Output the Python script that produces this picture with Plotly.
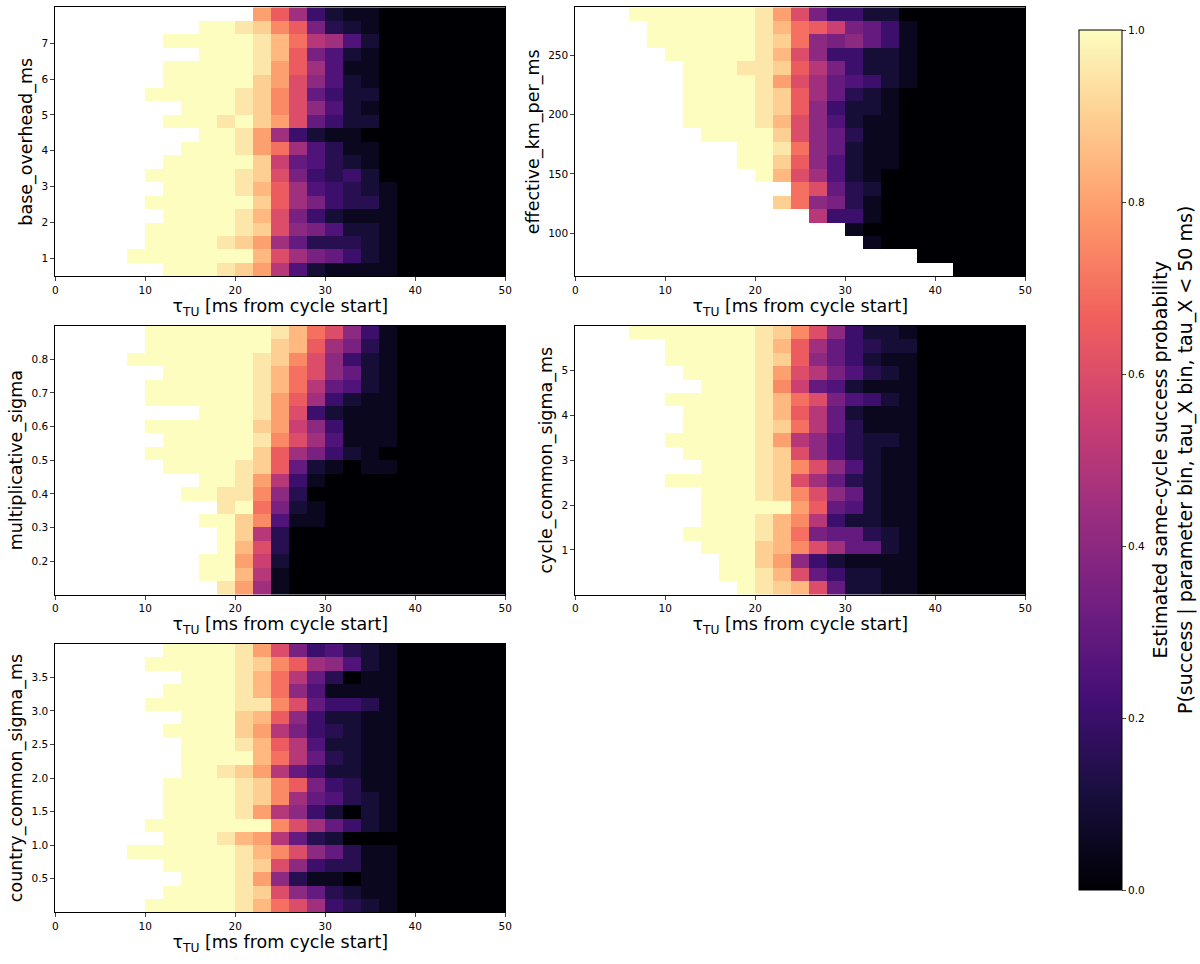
import numpy as np
import plotly.graph_objects as go

# cell codes: "." = empty bin, a..u = 0.00..1.00 in steps of 0.05
# rows are listed top (largest parameter value) to bottom, 25 columns of 2 ms each
LEVELS = "abcdefghijklmnopqrstu"

tau_edges = [0, 50]
n_tau_bins = 25

base_overhead_rows = [
    "...........qnjecbbaaaaaaa",
    "........uutspnhdcbaaaaaaa",
    "......uuuuutrokjfcaaaaaaa",
    "........uuutrnhfcbaaaaaaa",
    "......uuuuutqnjfbbaaaaaaa",
    "......uuuuusqmifcbaaaaaaa",
    ".....uuuuutspmgeccaaaaaaa",
    ".......uuutspmifcbaaaaaaa",
    "......uuutusqmgeccaaaaaaa",
    "........uutqjecbbaaaaaaaa",
    ".......uuutqojfdbbaaaaaaa",
    "......uuuuuslgfdcbaaaaaaa",
    ".....uuuuutsmhedecaaaaaaa",
    "......uuuutrnjfedcbaaaaaa",
    ".....uuuuuusnjheddbaaaaaa",
    "......uuuutrmhecbbbaaaaaa",
    ".....uuuuutsmihfccbaaaaaa",
    ".....uuuutsqjgdddcbaaaaaa",
    "....uuuuuuurmjhgecbaaaaaa",
    "......uuutsqkfcbbbbaaaaaa",
]

effective_km_rows = [
    "...uuuuuuutqmheeccaaaaaaa",
    "....uuuuuutronlhgebaaaaaa",
    "....uuuuuutsoihigebaaaaaa",
    ".....uuuuutrmieeccbaaaaaa",
    "......uuuttsnkheccbaaaaaa",
    "......uuuutqmjgfecbaaaaaa",
    "......uuuutsnjgdcbaaaaaaa",
    "......uuuutsnieccbaaaaaaa",
    "......uuuutrmifcbbaaaaaaa",
    ".......uuuusmigdbbaaaaaaa",
    ".........uutoigcbbaaaaaaa",
    ".........uusnifcbbaaaaaaa",
    "..........urmjfcbaaaaaaaa",
    "............omgdcaaaaaaaa",
    "...........soihdbaaaaaaaa",
    ".............keebaaaaaaaa",
    "...............baaaaaaaaa",
    "................baaaaaaaa",
    "...................aaaaaa",
    ".....................aaaa",
]

mult_sigma_rows = [
    ".....uuuuuuutromiebaaaaaa",
    ".....uuuuuuusrnjhdbaaaaaa",
    "....uuuuuuutspmiecbaaaaaa",
    "......uuuuutromigcbaaaaaa",
    ".....uuuuuutrokgfcbaaaaaa",
    ".....uuuuuutqnjecbbaaaaaa",
    "........uuutqmecbbbaaaaaa",
    ".....uuuuuusqliebbbaaaaaa",
    "......uuuuutpmjfbbbaaaaaa",
    ".....uuuuuusnjhecbaaaaaaa",
    "......uuuutsngcbabbaaaaaa",
    "........uutqkebaaaaaaaaaa",
    ".......uuttpidaaaaaaaaaaa",
    ".........tuohcbaaaaaaaaaa",
    "........uuspfbbaaaaaaaaaa",
    ".........uskdaaaaaaaaaaaa",
    ".........urmdaaaaaaaaaaaa",
    "........uuqlcaaaaaaaaaaaa",
    "........uurkbaaaaaaaaaaaa",
    ".........tqjbaaaaaaaaaaaa",
]

cycle_sigma_rows = [
    "...uuuuuuutspmieccbaaaaaa",
    ".....uuuuutrnjgedccaaaaaa",
    ".....uuuuutsnigecbbaaaaaa",
    "......uuuutqmkhfdcbaaaaaa",
    ".......uuutplgfcbbbaaaaaa",
    ".....uuuuutromhfecbaaaaaa",
    "......uuuutrnkgcbbbaaaaaa",
    "......uuuutsokgdbbbaaaaaa",
    ".....uuuuutqkifdccbaaaaaa",
    "......uuuutsmifdcbbaaaaaa",
    ".......uuutspmifcbbaaaaaa",
    ".....uuuuutsmjgdcbbaaaaaa",
    ".......uuutspmigcbbaaaaaa",
    ".......uuuuuqngfcbbaaaaaa",
    ".......uuutrpkeccbbaaaaaa",
    "......uuuutrohggdcbaaaaaa",
    ".......uuusrpmjggcbaaaaaa",
    "........uusqiecbbbbaaaaaa",
    "........uutrmgeccbbaaaaaa",
    ".........utsrmgccbbaaaaaa",
]

country_sigma_rows = [
    "......uuuutqmhefdcbaaaaaa",
    ".....uuuuutspnjifcbaaaaaa",
    ".......uuutrokgdabbaaaaaa",
    "......uuuutroifbbbbaaaaaa",
    ".....uuuuuttpmgeedbaaaaaa",
    ".......uuusrnieccbbaaaaaa",
    "......uuuusqkhedcbbaaaaaa",
    ".......uuutrnkfccbbaaaaaa",
    ".......uuuurokgdcbbaaaaaa",
    ".......uutsqkgeccbbaaaaaa",
    "......uuuutspnhedbbaaaaaa",
    "......uuuutspjgfdcbaaaaaa",
    "......uuuutqkiecacbaaaaaa",
    ".....uuuuuuupmjgecbaaaaaa",
    "......uuutrqkgdcaaaaaaaaa",
    "....uuuuuutrpmigdbbaaaaaa",
    "......uuuutsmieddbbaaaaaa",
    ".......uuutqidbbabbaaaaaa",
    "......uuuutsmigdcbbaaaaaa",
    ".....uuuuutromjedcbaaaaaa",
]

param_names = ["base_overhead_ms", "effective_km_per_ms", "multiplicative_sigma",
               "cycle_common_sigma_ms", "country_common_sigma_ms"]
param_ranges = [(0.5, 8.0), (63.8, 290.2), (0.1, 0.9), (0.0, 6.0), (0.0, 4.0)]
param_ticks = [[1, 2, 3, 4, 5, 6, 7], [100, 150, 200, 250],
               [0.2, 0.3, 0.4, 0.5, 0.6, 0.7, 0.8], [1, 2, 3, 4, 5],
               [0.5, 1.0, 1.5, 2.0, 2.5, 3.0, 3.5]]
param_tickfmt = ["d", "d", ".1f", "d", ".1f"]
panel_rows = [base_overhead_rows, effective_km_rows, mult_sigma_rows,
              cycle_sigma_rows, country_sigma_rows]

cbar_ticks = [0.0, 0.2, 0.4, 0.6, 0.8, 1.0]
cbar_label = ("Estimated same-cycle success probability<br>"
              "P(success | parameter bin, tau_X bin, tau_X < 50 ms)")
x_label = "τ<sub>TU</sub> [ms from cycle start]"


def decode(rows):
    z = [[np.nan if ch == "." else LEVELS.index(ch) / 20 for ch in row] for row in rows]
    return np.array(z[::-1])  # bottom row first


W, H = 1200, 964
# panel boxes in pixels (left, right, top, bottom)
col_px = [(55.3, 505.3), (575.3, 1025.3)]
row_px = [(7.3, 276.3), (325.7, 594.7), (643.7, 912.3)]
slots = [(0, 0), (0, 1), (1, 0), (1, 1), (2, 0)]

tau_step = (tau_edges[1] - tau_edges[0]) / n_tau_bins
tau_centers = tau_edges[0] + tau_step * (np.arange(n_tau_bins) + 0.5)

fig = go.Figure()
layout = {}
for i, (rows, name, (lo, hi), ticks, fmt) in enumerate(
        zip(panel_rows, param_names, param_ranges, param_ticks, param_tickfmt)):
    z = decode(rows)
    n = z.shape[0]
    step = (hi - lo) / n
    y_centers = lo + step * (np.arange(n) + 0.5)
    k = "" if i == 0 else str(i + 1)
    fig.add_trace(go.Heatmap(x=tau_centers, y=y_centers, z=z, coloraxis="coloraxis",
                             xaxis="x" + k, yaxis="y" + k, hoverongaps=False))
    r, c = slots[i]
    x0, x1 = col_px[c]
    t0, t1 = row_px[r]
    layout["xaxis" + k] = dict(
        domain=[x0 / W, x1 / W], anchor="y" + k, range=tau_edges,
        tickvals=[0, 10, 20, 30, 40, 50], ticks="outside", ticklen=4,
        showline=True, mirror=True, linecolor="black", linewidth=1,
        showgrid=False, zeroline=False, automargin=False,
        tickfont=dict(size=10.5, color="black"),
        title=dict(text=x_label, font=dict(size=17.5, color="black"), standoff=3))
    layout["yaxis" + k] = dict(
        domain=[1 - t1 / H, 1 - t0 / H], anchor="x" + k, range=[lo, hi],
        tickvals=ticks, tickformat=fmt, ticks="outside", ticklen=4,
        showline=True, mirror=True, linecolor="black", linewidth=1,
        showgrid=False, zeroline=False, automargin=False,
        tickfont=dict(size=10.5, color="black"),
        title=dict(text=name, font=dict(size=17.5, color="black"), standoff=4))

fig.update_layout(
    width=W, height=H, autosize=False,
    margin=dict(l=0, r=0, t=0, b=0),
    paper_bgcolor="white", plot_bgcolor="white",
    font=dict(family="DejaVu Sans", color="black"),
    coloraxis=dict(
        colorscale="Magma", cmin=0, cmax=1,
        colorbar=dict(
            x=1079 / W, xanchor="left", thickness=43, thicknessmode="pixels",
            y=1 - 460 / H, yanchor="middle", len=860 / H, lenmode="fraction",
            outlinewidth=1, outlinecolor="black",
            tickvals=cbar_ticks, tickformat=".1f", ticks="outside", ticklen=4,
            tickfont=dict(size=10.5, color="black"), xpad=0, ypad=0)),
    annotations=[dict(
        text=cbar_label, textangle=-90, showarrow=False,
        x=1173 / W, y=1 - 460 / H, xref="paper", yref="paper",
        xanchor="center", yanchor="middle",
        font=dict(size=19, color="black"))],
    **layout)

# the page body has a default 8px margin; drop it so the figure sits at the window corner
fig.write_html("out.html", config={"displayModeBar": False},
               post_script="document.body.style.margin='0px';")
